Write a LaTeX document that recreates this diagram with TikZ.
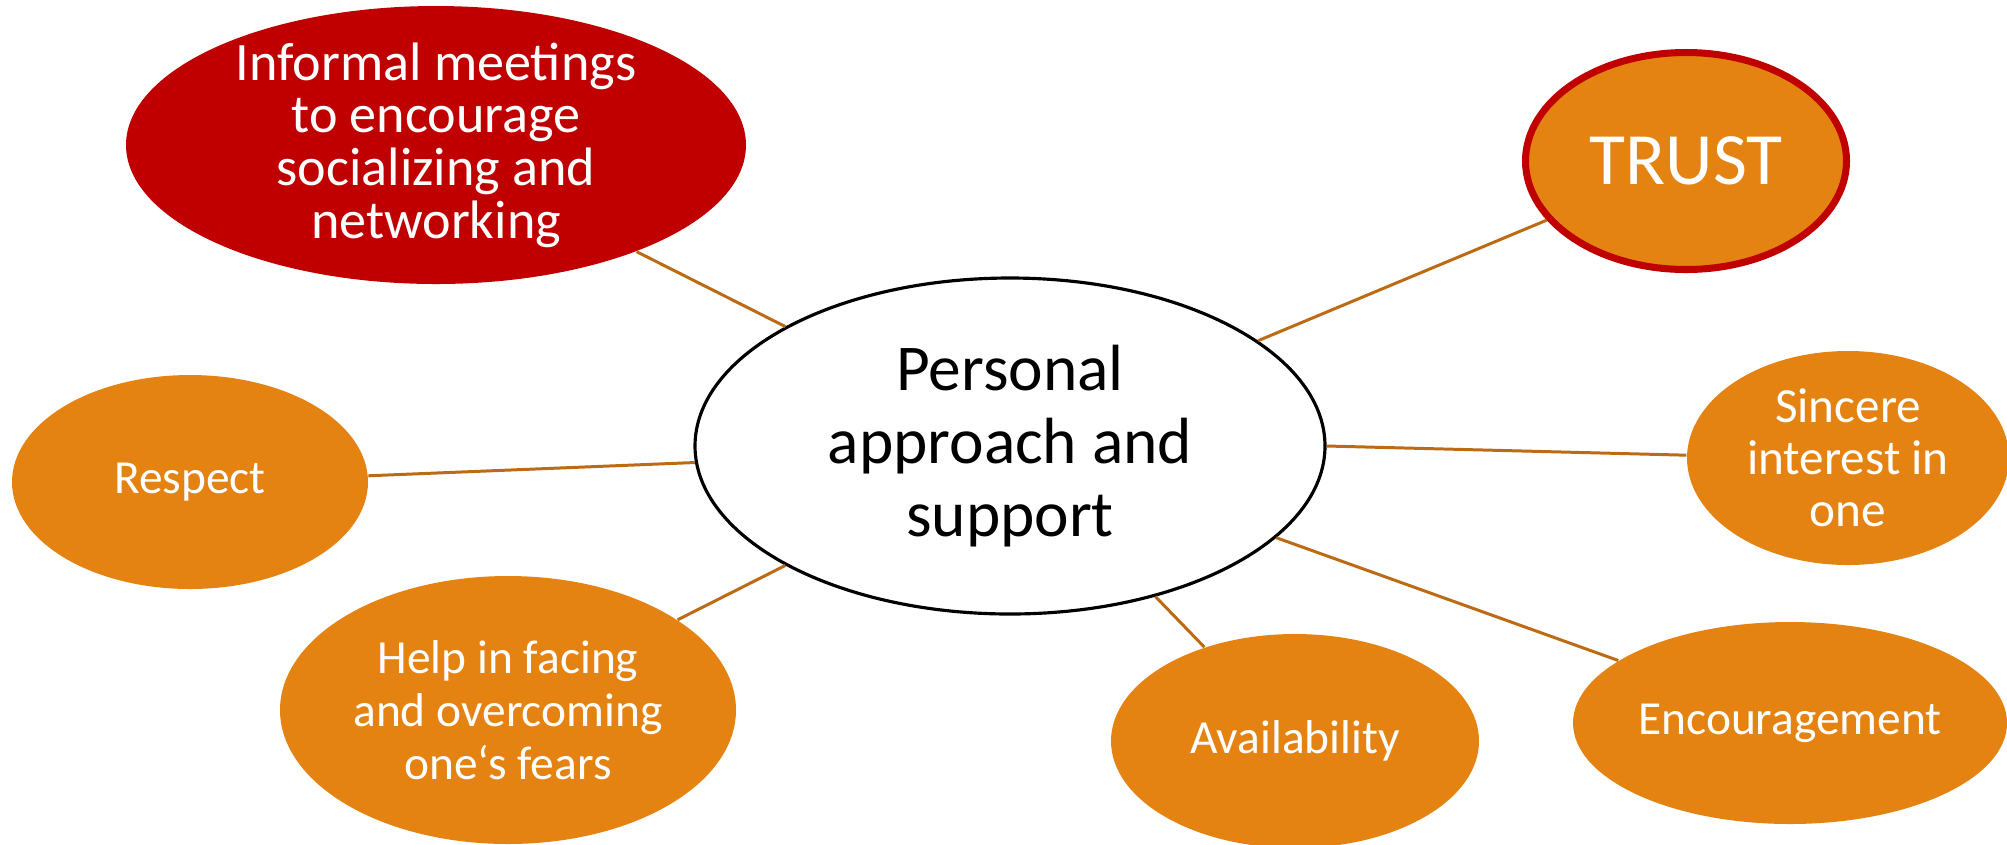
\documentclass[tikz,border=0pt]{standalone}
\usepackage{fontspec}
\setmainfont{Carlito}
\usetikzlibrary{shapes.geometric}
\definecolor{bubbleorange}{RGB}{228,131,18}
\definecolor{bubblered}{RGB}{192,0,0}
\definecolor{linkbrown}{RGB}{188,106,20}

\begin{document}
\begin{tikzpicture}[x=0.1mm, y=-0.1mm,
    bubble/.style={ellipse, fill=bubbleorange, text=white, inner sep=-1cm, align=center, font=\fontsize{13.5}{15}\selectfont},
    link/.style={draw=linkbrown, line width=0.85pt}]
    \useasboundingbox (0, 0) rectangle (2007, 844);
    \node[ellipse, draw, line width=0.9pt, inner sep=-1cm, align=center, minimum width=63mm, minimum height=33.6mm, font=\fontsize{18.6}{20.7}\selectfont] (core) at (1010, 446) {Personal\\approach and\\support};
    \node[bubble, fill=bubblered, minimum width=62mm, minimum height=27.8mm, font=\fontsize{15.4}{15}\selectfont] (meetings) at (436, 145) {Informal meetings\\to encourage\\socializing and\\networking};
    \node[bubble, draw=bubblered, line width=2pt, minimum width=32.1mm, minimum height=21.7mm, font=\fontsize{21}{25}\selectfont] (trust) at (1686, 161) {TRUST};
    \node[bubble, minimum width=35.6mm, minimum height=21.4mm] (respect) at (190, 482) {Respect};
    \node[bubble, minimum width=32.2mm, minimum height=21.4mm, font=\fontsize{14}{14.8}\selectfont] (sincere) at (1848, 458) {Sincere\\interest in\\one};
    \node[bubble, minimum width=45.6mm, minimum height=26.8mm] (fears) at (508, 710) {Help in facing\\and overcoming\\one‘s fears};
    \node[bubble, minimum width=36.8mm, minimum height=21.4mm] (avail) at (1295, 741) {Availability};
    \node[bubble, minimum width=43.4mm, minimum height=20.2mm] (encourage) at (1790, 723) {Encouragement};

    \draw[link] (core.152) -- (meetings.-28);
    \draw[link] (core.23) -- (trust.-157);
    \draw[link] (core.-177) -- (respect.2.5);
    \draw[link] (core.-0.7) -- (sincere.179);
    \draw[link] (core.-152) -- (fears.28);
    \draw[link] (core.-46) -- (avail.134);
    \draw[link] (core.-19.5) -- (encourage.160);
\end{tikzpicture}
\end{document}
